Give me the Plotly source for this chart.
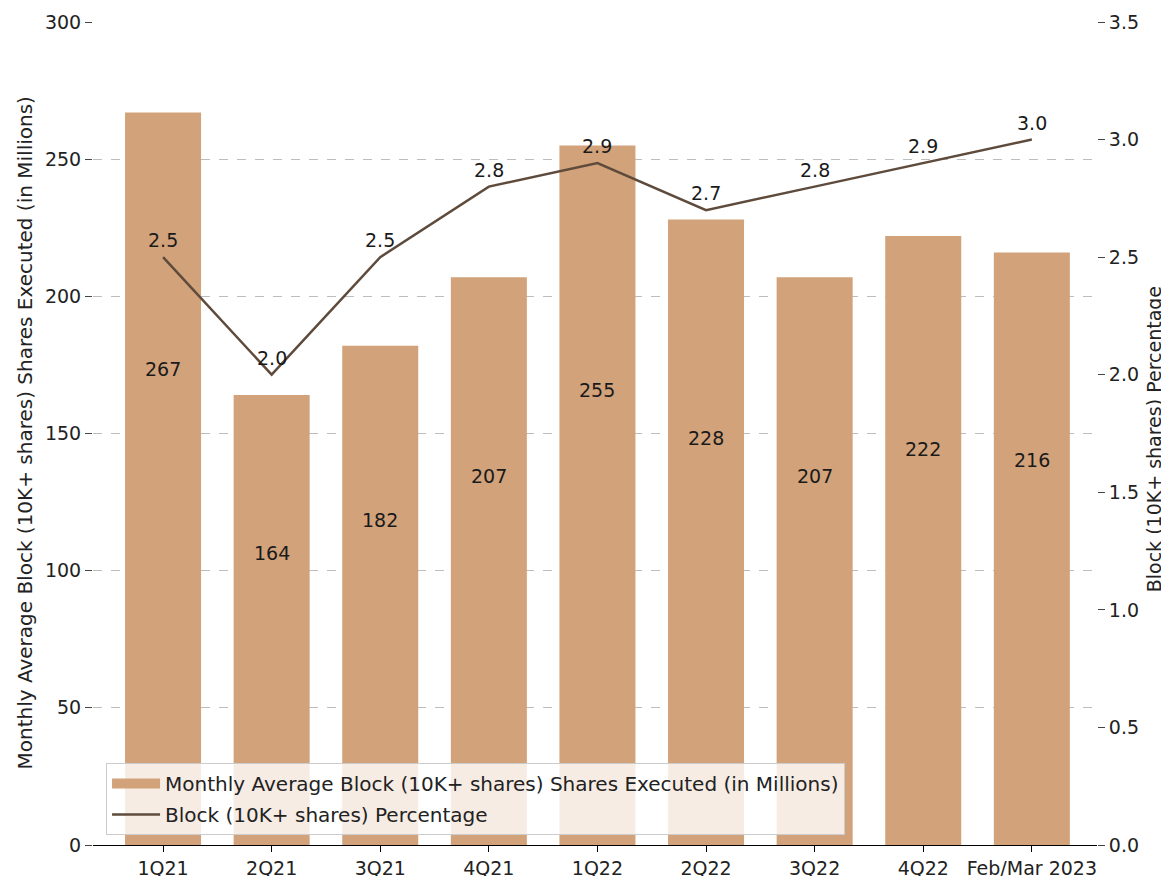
import plotly.graph_objects as go

categories = ["1Q21", "2Q21", "3Q21", "4Q21", "1Q22", "2Q22", "3Q22", "4Q22", "Feb/Mar 2023"]
shares_millions = [267, 164, 182, 207, 255, 228, 207, 222, 216]
block_pct = [2.5, 2.0, 2.5, 2.8, 2.9, 2.7, 2.8, 2.9, 3.0]
left_ticks = [0, 50, 100, 150, 200, 250, 300]
right_ticks = [0.0, 0.5, 1.0, 1.5, 2.0, 2.5, 3.0, 3.5]

bar_name = "Monthly Average Block (10K+ shares) Shares Executed (in Millions)"
line_name = "Block (10K+ shares) Percentage"

BAR_COLOR = "#D2A27A"
LINE_COLOR = "#5E4B3C"
FONT = "DejaVu Sans"
FS = 19
TXT = "#1a1a1a"

x_idx = list(range(len(categories)))

fig = go.Figure()
fig.add_trace(go.Bar(
    x=x_idx, y=shares_millions, name=bar_name, width=0.7, showlegend=False,
    marker=dict(color=BAR_COLOR, line=dict(width=0)), yaxis="y",
))
# legend entry for bars (wide patch like the reference)
fig.add_trace(go.Scatter(
    x=[None], y=[None], name=bar_name, mode="lines", legendgroup="a",
    line=dict(color=BAR_COLOR, width=14), yaxis="y",
))
fig.add_trace(go.Scatter(
    x=x_idx, y=block_pct, name=line_name, mode="lines", legendgroup="b",
    line=dict(color=LINE_COLOR, width=2.5), yaxis="y2",
))

for i, v in zip(x_idx, block_pct):
    fig.add_annotation(x=i, y=v, xref="x", yref="y2", text=f"{v:.1f}", yshift=17,
                       showarrow=False, font=dict(family=FONT, size=FS, color=TXT))

for i, v in zip(x_idx, shares_millions):
    fig.add_annotation(x=i, y=v * 0.65, xref="x", yref="y", text=str(v),
                       showarrow=False, font=dict(family=FONT, size=FS, color=TXT))

fig.add_annotation(x=-0.0687, y=0.5, xref="paper", yref="paper", xanchor="center", yanchor="middle",
                   text=bar_name, textangle=-90, showarrow=False,
                   font=dict(family=FONT, size=20, color="#222222"))
fig.add_annotation(x=1.0568, y=0.493, xref="paper", yref="paper", xanchor="center", yanchor="middle",
                   text=line_name, textangle=-90, showarrow=False,
                   font=dict(family=FONT, size=FS, color="#222222"))

fig.update_layout(
    width=1161, height=868,
    margin=dict(l=85, r=72, t=14, b=31, autoexpand=False),
    plot_bgcolor="white", paper_bgcolor="white",
    font=dict(family=FONT, size=FS, color="#222222"),
    showlegend=True,
    legend=dict(x=0.013, y=0.012, xanchor="left", yanchor="bottom",
                bgcolor="rgba(255,255,255,0.8)", bordercolor="#cccccc", borderwidth=1,
                font=dict(family=FONT, size=20, color="#222222"),
                traceorder="grouped", tracegroupgap=2, itemwidth=48),
    xaxis=dict(range=[-0.645, 8.6], tickmode="array", tickvals=x_idx, ticktext=categories,
               showline=True, linecolor="black", linewidth=1.2, ticks="outside", ticklen=6,
               tickcolor="black", showgrid=False, zeroline=False, automargin=False),
    yaxis=dict(range=[0, 300], tickvals=left_ticks, ticks="outside", ticklen=7, tickcolor="#444444",
               showgrid=True, gridcolor="#bdbdbd", griddash="dash", gridwidth=1,
               showline=False, zeroline=False, automargin=False),
    yaxis2=dict(range=[0, 3.5], tickvals=right_ticks, tickformat=".1f", overlaying="y", side="right",
                ticks="outside", ticklen=7, tickcolor="#444444", showgrid=False,
                showline=False, zeroline=False, automargin=False),
)

fig.write_html("out.html")
